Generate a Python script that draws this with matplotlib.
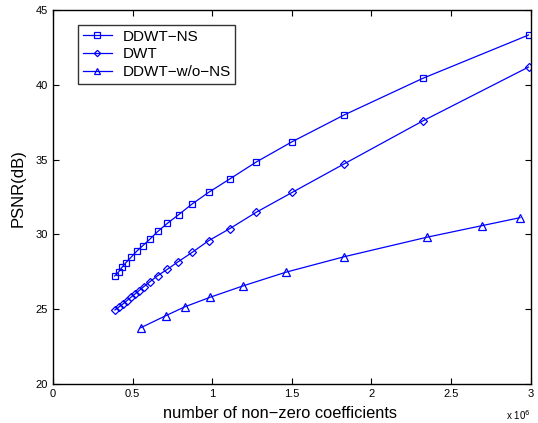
import matplotlib
matplotlib.use('Agg')
import matplotlib.pyplot as plt

plt.rcParams['font.family'] = ['Liberation Sans', 'DejaVu Sans']

# number of non-zero coefficients (x 10^6) and PSNR (dB)
x_ddwt_ns = [0.387, 0.412, 0.433, 0.458, 0.490, 0.525, 0.563, 0.609, 0.659, 0.718,
             0.789, 0.873, 0.977, 1.109, 1.276, 1.502, 1.827, 2.321, 2.986]
y_ddwt_ns = [27.22, 27.49, 27.80, 28.11, 28.47, 28.87, 29.24, 29.69, 30.21, 30.74,
             31.32, 32.03, 32.81, 33.70, 34.84, 36.20, 37.98, 40.43, 43.33]

x_dwt = [0.389, 0.414, 0.439, 0.465, 0.490, 0.515, 0.540, 0.569, 0.609, 0.657,
         0.718, 0.787, 0.874, 0.977, 1.109, 1.276, 1.502, 1.827, 2.321, 2.986]
y_dwt = [24.95, 25.15, 25.35, 25.58, 25.80, 26.02, 26.24, 26.50, 26.84, 27.24,
         27.67, 28.18, 28.80, 29.58, 30.38, 31.48, 32.81, 34.71, 37.58, 41.19]

x_ddwt_wo = [0.551, 0.709, 0.830, 0.987, 1.191, 1.461, 1.829, 2.347, 2.691, 2.933]
y_ddwt_wo = [23.76, 24.57, 25.17, 25.80, 26.55, 27.47, 28.51, 29.81, 30.58, 31.12]

fig = plt.figure(figsize=(5.38, 4.23), dpi=100)
ax = fig.add_axes([0.0985, 0.0922, 0.888, 0.884])

azul = '#0000ff'
ax.plot(x_ddwt_ns, y_ddwt_ns, '-s', color=azul, lw=0.9, ms=5, mfc='none', mew=0.9, label='DDWT\u2212NS')
ax.plot(x_dwt, y_dwt, '-D', color=azul, lw=0.9, ms=4.3, mfc='none', mew=0.9, label='DWT')
ax.plot(x_ddwt_wo, y_ddwt_wo, '-^', color=azul, lw=0.9, ms=6, mfc='none', mew=0.9, label='DDWT\u2212w/o\u2212NS')

ax.set_xlim(0, 3)
ax.set_ylim(20, 45)
ax.set_xticks([0, 0.5, 1, 1.5, 2, 2.5, 3])
ax.set_xticklabels(['0', '0.5', '1', '1.5', '2', '2.5', '3'])
ax.set_yticks([20, 25, 30, 35, 40, 45])
ax.tick_params(direction='in', top=True, right=True, labelsize=8, length=4, width=0.8)
for s in ax.spines.values():
    s.set_linewidth(1.0)

ax.set_xlabel('number of non\u2212zero coefficients', fontsize=11.8)
ax.xaxis.set_label_coords(0.475, -0.058)
ax.set_ylabel('PSNR(dB)', fontsize=12)
ax.yaxis.set_label_coords(-0.057, 0.524)
ax.text(1.0, -0.065, r'x 10$^6$', transform=ax.transAxes, fontsize=7, ha='right', va='top')

leg = ax.legend(loc='upper left', bbox_to_anchor=(0.053, 0.96), fontsize=11, frameon=True,
                fancybox=False, edgecolor='black', handlelength=1.9, borderpad=0.3,
                labelspacing=0.25, handletextpad=0.7, borderaxespad=0, markerscale=0.75)
leg.get_frame().set_linewidth(1.0)

fig.savefig('out.png', dpi=100)
